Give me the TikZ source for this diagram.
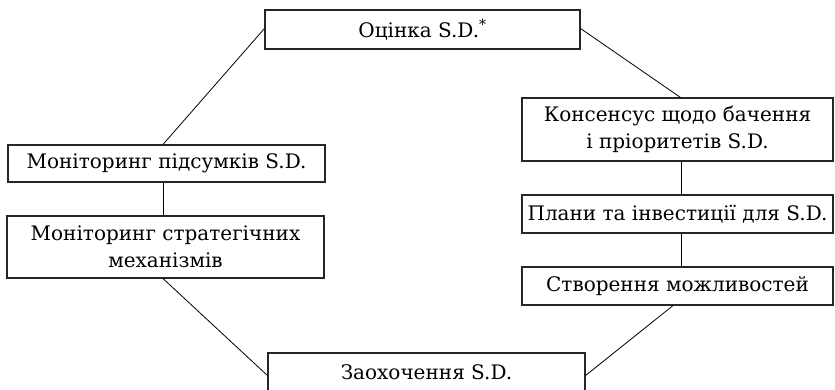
\documentclass[tikz,border=0pt]{standalone}
\usepackage{fontspec}
\setmainfont{DejaVu Serif}
\begin{document}
\begin{tikzpicture}[x=1pt,y=-1pt,
  box/.style={draw=black!85, line width=1.1pt, fill=white, inner sep=0pt, align=center,
    font=\fontsize{20}{27}\selectfont},
  link/.style={draw=black, line width=0.8pt}]
\useasboundingbox (0,0) rectangle (835,389);
\clip (0,0) rectangle (835,389);
\node[box, minimum width=315pt, minimum height=39pt] (top) at (422.5,29.5) {Оцінка S.D.\textsuperscript{*}};
\node[box, minimum width=317pt, minimum height=37pt] (l1) at (166.5,163.5) {Моніторинг підсумків S.D.};
\node[box, minimum width=317pt, minimum height=62pt] (l2) at (165.5,247) {Моніторинг стратегічних\\механізмів};
\node[box, minimum width=311pt, minimum height=63pt] (r1) at (677.5,129.5) {Консенсус щодо бачення\\і пріоритетів S.D.};
\node[box, minimum width=311pt, minimum height=38pt] (r2) at (677.5,214) {Плани та інвестиції для S.D.};
\node[box, minimum width=311pt, minimum height=38pt] (r3) at (677.5,286) {Створення можливостей};
\node[box, minimum width=317pt, minimum height=39pt] (b) at (426.5,372.5) {Заохочення S.D.};
\draw[link] ([yshift=1pt]top.west) -- ([xshift=-3.5pt]l1.north);
\draw[link] ([yshift=1pt]top.east) -- ([xshift=3pt]r1.north);
\draw[link] ([xshift=-3.5pt]l1.south) -- ([xshift=-2.5pt]l2.north);
\draw[link] ([xshift=3.5pt]r1.south) -- ([xshift=3.5pt]r2.north);
\draw[link] ([xshift=3.5pt]r2.south) -- ([xshift=3.5pt]r3.north);
\draw[link] ([xshift=-2.5pt]l2.south) -- ([yshift=-3pt]b.west);
\draw[link] ([xshift=-4.5pt]r3.south) -- ([yshift=-3pt]b.east);
\end{tikzpicture}
\end{document}
